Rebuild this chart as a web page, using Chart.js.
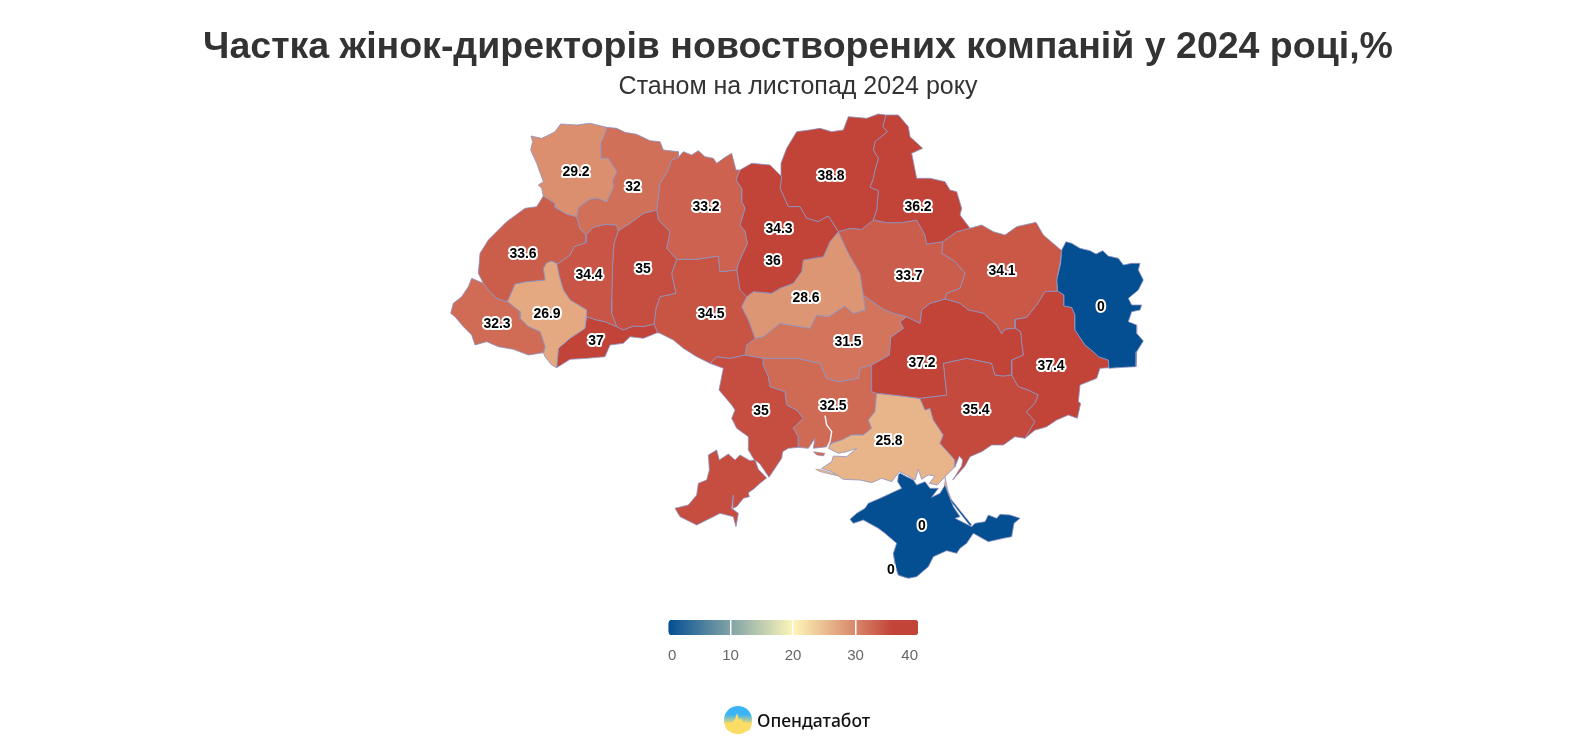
<!DOCTYPE html>
<html lang="uk"><head><meta charset="utf-8">
<script src="https://cdn.jsdelivr.net/npm/chart.js@4"></script>
<style>
html,body{margin:0;padding:0;background:#fff;overflow:hidden}
#wrap{position:relative;width:1596px;height:750px}
#map{position:absolute;left:0;top:0}
#scale{position:absolute;left:648px;top:620px}
#logo{position:absolute;left:724px;top:706px}
#brand{position:absolute;left:757px;top:707px;font:500 17.5px/26px "Noto Sans",sans-serif;color:#111}
</style></head><body>
<div id="wrap">
<canvas id="map" width="1596" height="750"></canvas>
<canvas id="scale" width="290" height="50"></canvas>
<svg id="logo" width="28" height="28" viewBox="0 0 28 28"><defs><linearGradient id="lg" x1="0" y1="0" x2="0" y2="1"><stop offset="0.3" stop-color="#3ab4f6"/><stop offset="0.66" stop-color="#fbdc64"/></linearGradient></defs><circle cx="14" cy="14" r="14" fill="url(#lg)"/><path d="M0 17 L9 16 L11 13 L13 7 L15 14 L17 12 L19 16 L28 17 L26 24 L14 28 L3 24Z" fill="#fbdc64"/></svg>
<div id="brand">Опендатабот</div>
</div>
<script>
const titleText = "Частка жінок-директорів новостворених компаній у 2024 році,%";
const subtitleText = "Станом на листопад 2024 року";
const regionNames = ["Волинська","Рівненська","Львівська","Закарпатська","Івано-Франківська","Тернопільська","Хмельницька","Чернівецька","Житомирська","Вінницька","Київська","м. Київ","Чернігівська","Сумська","Полтавська","Черкаська","Кіровоградська","Дніпропетровська","Харківська","Луганська","Донецька","Запорізька","Херсонська","Миколаївська","Одеська","АР Крим","м. Севастополь"];
const regionValues = [29.2,32,33.6,32.3,26.9,34.4,35,37,33.2,34.5,36,34.3,38.8,36.2,33.7,28.6,31.5,37.2,34.1,0,37.4,35.4,25.8,32.5,35,0,0];
const colorStopValues = [0,20,36,40];
const colorStopColors = [[3,79,146],[253,246,185],[194,67,56],[194,67,56]];
const scaleTicks = [0,10,20,30,40];

// region outlines, traced as [x,y,...] in 3x crops of the picture; first item of each list is the crop origin
const volyn=[430,100,303,108,335,115,350,108,375,95,392,72,440,75,480,70,530,82,525,100,512,130,513,175,535,175,560,215,548,240,550,262,530,305,505,295,480,297,445,322,440,350,410,342,375,322,375,310,340,288,335,265,325,255,340,245,320,190,302,150,308,125];
const rivne=[430,100,530,82,560,85,585,97,620,103,660,122,690,125,700,150,745,155,745,172,725,180,712,215,690,250,685,290,680,330,640,340,600,370,565,392,560,375,525,373,490,382,468,405,450,385,440,350,445,322,480,297,505,295,530,305,550,262,548,240,560,215,535,175,513,175,512,130,525,100];
const lviv=[430,100,340,288,375,310,375,322,410,342,440,350,450,385,468,405,468,428,432,440,420,465,385,490,380,490,365,483,350,488,340,505,345,540,290,545,255,552,232,605,200,595,175,570,160,550,145,520,150,460,175,420,230,365,285,325,320,320];
const zakarpattia=[430,100,125,535,160,550,175,570,200,595,232,605,270,635,270,655,295,680,330,695,345,740,340,758,295,765,250,748,205,740,170,725,135,735,125,705,100,680,75,650,62,640,70,610,95,590,115,560];
const frankivsk=[430,100,365,483,380,490,388,530,400,570,420,600,470,630,465,685,420,715,385,745,380,803,365,795,345,770,340,758,345,740,330,695,295,680,270,655,270,635,232,605,255,552,290,545,345,540,340,505,350,488];
const ternopil=[430,100,468,405,490,382,525,373,560,375,565,392,552,430,548,490,545,600,545,640,560,680,525,665,500,660,470,650,470,630,420,600,400,570,388,530,380,490,385,490,420,465,432,440,468,428];
const khmelnytskyi=[430,100,565,392,600,370,640,340,680,330,685,360,720,395,710,445,740,478,725,520,730,545,738,580,690,590,678,625,672,672,640,680,610,678,580,690,560,680,545,640,545,600,548,490,552,430];
const chernivtsi=[430,100,470,650,500,660,525,665,560,680,580,690,610,678,640,680,672,672,682,698,640,715,600,710,580,730,540,735,525,770,470,775,420,778,380,803,385,745,420,715,465,685];
const zhytomyr=[430,100,745,172,760,155,785,165,805,152,825,170,850,175,860,190,885,172,905,160,918,210,930,210,918,240,935,265,935,305,945,325,930,375,945,395,952,430,925,490,920,510,870,515,865,468,800,478,740,478,710,445,720,395,685,360,680,330,685,290,690,250,712,215,725,180];
const vinnytsia=[430,100,740,478,800,478,865,468,870,515,920,510,930,570,950,590,935,620,955,660,975,715,950,735,945,765,900,775,860,770,840,790,800,770,760,745,730,720,690,700,682,698,672,672,678,625,690,590,738,580,730,545,725,520];
const kyivObl=[760,100,-60,210,-25,190,30,195,65,230,60,265,85,320,120,320,140,355,175,365,205,348,235,395,210,425,190,470,130,480,125,515,100,550,60,565,35,580,-20,575,-40,590,-60,570,-70,510,-65,490,-38,430,-45,395,-60,375,-45,325,-55,305,-55,265,-72,240];
const kyivCity=[760,100,30,340,50,335,60,350,75,345,95,340,90,365,85,385,75,410,70,445,60,445,55,420,30,410,15,385,20,350];
const chernihiv=[760,100,65,230,63,190,80,145,110,95,148,90,180,85,215,95,250,90,265,50,320,55,355,42,378,45,368,80,382,95,345,125,340,150,355,175,345,210,340,235,330,262,355,272,350,330,340,360,305,388,270,385,235,395,205,348,175,365,140,355,120,320,85,320,60,265];
const sumy=[760,100,378,45,415,45,445,80,450,110,488,145,455,160,465,210,470,235,510,235,555,245,570,270,590,275,605,325,600,345,630,385,590,395,548,425,500,432,495,405,470,360,425,368,380,368,340,360,350,330,355,272,330,262,340,235,345,210,355,175,340,150,345,125,382,95,368,80];
const poltava=[760,100,235,395,270,385,305,388,340,360,380,368,425,368,470,360,495,405,500,432,548,425,545,460,585,485,615,520,600,565,560,580,555,597,510,610,485,630,480,670,440,650,400,640,365,625,310,585,300,520,265,460];
const cherkasy=[760,100,235,395,265,460,300,520,310,585,315,630,280,640,255,618,205,650,170,645,150,685,60,670,10,710,-15,715,-35,660,-55,620,-40,590,-20,575,35,580,60,565,100,550,125,515,130,480,190,470,210,425];
const kirovohrad=[760,100,-15,715,10,710,60,670,150,685,170,645,205,650,255,618,280,640,315,630,310,585,365,625,400,640,440,650,420,665,430,685,392,712,388,765,335,795,300,805,295,835,235,845,200,835,180,790,110,775,10,775,-45,765,-40,735];
const dnipro=[760,100,430,685,420,665,440,650,480,670,485,630,510,610,555,597,600,610,625,630,670,640,710,675,725,702,735,688,765,685,782,695,785,730,790,765,755,780,755,825,730,828,705,825,695,790,620,775,550,790,560,885,480,895,400,885,350,880,335,875,335,795,388,765,392,712];
const kharkiv=[760,100,548,425,590,395,630,385,665,375,700,395,735,405,770,380,828,367,850,405,905,452,900,490,890,540,892,573,855,575,830,615,800,652,765,658,765,685,735,688,725,702,710,675,670,640,625,630,600,610,555,597,560,580,600,565,615,520,585,485,545,460];
const luhansk=[990,230,215,60,228,35,245,40,270,55,300,62,318,72,338,62,355,78,385,85,400,105,425,100,450,100,445,120,460,150,445,180,415,205,425,225,455,225,450,240,425,245,415,275,440,285,440,310,460,333,440,365,438,410,400,412,357,415,355,390,325,380,310,365,285,345,255,300,255,255,245,232,222,228,222,195,203,183,200,150,212,100];
const donetsk=[990,230,75,268,110,262,140,225,165,185,203,183,222,195,222,228,245,232,255,255,255,300,285,345,310,365,325,380,355,390,357,413,330,415,320,445,270,465,265,515,272,520,262,565,235,555,200,570,170,590,155,595,135,600,105,625,135,575,110,545,135,520,145,495,115,480,85,470,65,435,65,390,100,375,95,340,92,305,75,295];
const zaporizhzhia=[650,340,810,175,890,165,880,70,950,55,1025,70,1035,105,1060,108,1085,105,1105,140,1135,150,1165,165,1155,190,1130,215,1155,245,1125,295,1095,290,1060,315,1025,315,995,335,960,350,945,378,908,420,935,378,938,360,928,348,915,380,915,360,870,310,880,285,850,240,840,205,825,210];
const kherson=[800,420,230,-80,280,-75,360,-65,375,-30,390,-35,400,0,430,45,420,70,465,120,465,140,435,170,412,195,388,190,405,168,385,165,365,178,355,148,345,180,320,165,298,155,275,185,245,175,215,188,180,180,130,178,95,155,65,145,95,125,100,108,140,110,170,85,140,95,115,100,85,85,95,70,125,60,155,45,190,45,215,25,205,0,225,-25];
const mykolaiv=[650,340,340,55,440,55,510,70,530,115,565,125,625,115,630,85,665,75,665,155,680,160,675,215,655,240,665,265,640,285,605,285,575,300,545,310,532,320,490,325,495,295,475,325,445,322,445,290,430,265,460,235,440,210,410,195,405,155,360,140,355,110,340,75];
const odesa=[660,380,150,-50,170,-70,210,-65,255,-75,310,-65,310,-45,325,-10,330,20,375,35,380,75,410,90,430,115,400,145,415,170,415,202,385,205,368,215,365,235,345,265,327,292,300,252,285,240,295,268,320,294,300,310,280,328,265,338,268,350,250,355,230,380,218,385,220,345,215,385,235,400,228,440,220,410,180,400,160,410,110,435,60,410,45,385,85,375,110,345,115,310,140,300,148,270,145,225,170,210,178,240,205,222,225,240,240,225,270,242,283,240,265,210,265,170,230,145,215,115,225,90,215,75,177,30,190,-35];
const crimea=[800,420,295,165,300,160,320,170,340,180,350,195,375,185,390,205,415,205,395,232,420,220,435,195,450,235,460,260,480,290,465,295,515,320,525,310,555,305,565,285,590,295,600,283,630,285,660,295,642,310,635,350,610,355,565,365,520,340,500,370,480,385,470,400,440,392,400,410,385,440,350,470,325,475,295,465,287,440,280,400,290,370,255,340,235,325,190,300,160,310,150,298,170,280,195,265,205,250,240,235,305,205,293,185];
const sevastopol=[800,420,280,400,298,405,300,432,320,460,318,473,295,465,287,440];
const regionShapes=[volyn,rivne,lviv,zakarpattia,frankivsk,ternopil,khmelnytskyi,chernivtsi,zhytomyr,vinnytsia,kyivObl,kyivCity,chernihiv,sumy,poltava,cherkasy,kirovohrad,dnipro,kharkiv,luhansk,donetsk,zaporizhzhia,kherson,mykolaiv,odesa,crimea,sevastopol];
// small detached pieces: spits and shoals, coloured by the region they belong to
const tendraSpit=[800,420,47,148,60,148,115,165,110,167,60,155];
const kinburnSpit=[800,420,40,95,75,100,70,108,50,105];
const arabatNorth=[800,420,435,170,445,215,455,240,450,240,440,220,432,190];
const arabatSouth=[800,420,455,240,515,315,510,317,450,240];
const detachedShapes=[tendraSpit,kinburnSpit,arabatNorth,arabatSouth];
const detachedOwners=[22,23,22,25];
const bugEstuary=[650,340,525,227,530,255,545,275,540,305,532,320];
// label anchors, true picture pixels
const labelX=[576,633,523,497,547,589,643,596,706,711,773,779,831,918,909,806,848,922,1002,1101,1051,976,889,833,761,922,891];
const labelY=[172,187,254,324,314,275,269,341,207,314,261,229,176,207,276,298,342,363,271,307,366,410,441,406,411,526,570];

function outline(list){const pts=[];for(let i=2;i<list.length;i+=2){pts.push({x:list[0]+list[i]/3,y:list[1]+list[i+1]/3});}pts.push({...pts[0]});return pts;}
function valueColor(v){
  let i=0;while(i<colorStopValues.length-2&&v>colorStopValues[i+1])i++;
  const t=Math.min(1,(v-colorStopValues[i])/(colorStopValues[i+1]-colorStopValues[i]));
  const a=colorStopColors[i],b=colorStopColors[i+1];
  return `rgb(${a.map((c,k)=>Math.round(c+(b[k]-c)*t)).join(",")})`;
}
const edgeColor="rgba(142,146,192,0.9)";
const datasets=[];
regionShapes.forEach((s,i)=>datasets.push({label:regionNames[i],data:outline(s),showLine:true,fill:"shape",tension:0,pointRadius:0,borderWidth:0.9,borderColor:edgeColor,backgroundColor:valueColor(regionValues[i]),borderJoinStyle:"round"}));
detachedShapes.forEach((s,i)=>datasets.push({label:regionNames[detachedOwners[i]],data:outline(s),showLine:true,fill:"shape",tension:0,pointRadius:0,borderWidth:0.6,borderColor:edgeColor,backgroundColor:valueColor(regionValues[detachedOwners[i]])}));
datasets.unshift({label:"Бузький лиман",data:outline(bugEstuary).slice(0,-1),showLine:true,fill:false,tension:0,pointRadius:0,borderWidth:1.5,borderColor:"#f4f4fa"});

const valueLabels={id:"valueLabels",afterDatasetsDraw(chart){
  const {ctx,scales:{x,y}}=chart;ctx.save();
  ctx.font='bold 14px "Liberation Sans"';ctx.textAlign="center";ctx.textBaseline="middle";ctx.lineJoin="round";
  regionValues.forEach((v,i)=>{const px=x.getPixelForValue(labelX[i]),py=y.getPixelForValue(labelY[i]);
    ctx.lineWidth=4;ctx.strokeStyle="#fff";ctx.strokeText(String(v),px,py);
    ctx.fillStyle="#000";ctx.fillText(String(v),px,py);});
  ctx.restore();}};

new Chart(document.getElementById("map"),{type:"scatter",data:{datasets},plugins:[valueLabels],options:{
  responsive:false,animation:false,events:[],
  layout:{padding:0},
  scales:{x:{type:"linear",display:false,min:0,max:1596},y:{type:"linear",display:false,min:110,max:750,reverse:true}},
  plugins:{legend:{display:false},tooltip:{enabled:false},
    title:{display:true,text:titleText,color:"#333",font:{family:'"Liberation Sans"',size:37.5,weight:"bold",lineHeight:1.2},padding:{top:25.5,bottom:1.5}},
    subtitle:{display:true,text:subtitleText,color:"#333",font:{family:'"Liberation Sans"',size:25,lineHeight:1.2},padding:{top:0,bottom:8}}}
}});

new Chart(document.getElementById("scale"),{type:"bar",data:{labels:["шкала"],datasets:[{data:[[scaleTicks[0],scaleTicks[scaleTicks.length-1]]],barPercentage:1,categoryPercentage:1,borderRadius:4,borderSkipped:false,
  backgroundColor(ctx){const a=ctx.chart.chartArea;if(!a)return "#ccc";const g=ctx.chart.ctx.createLinearGradient(a.left,0,a.right,0);
    colorStopValues.forEach(v=>g.addColorStop(v/40,valueColor(v)));return g;}}]},
  options:{indexAxis:"y",responsive:false,animation:false,events:[],layout:{padding:{left:20,right:20,top:0,bottom:0}},
  scales:{y:{display:false},x:{type:"linear",min:0,max:40,afterFit(s){s.height=35;},afterBuildTicks(s){s.ticks=scaleTicks.map(value=>({value}));},border:{display:false},
    grid:{z:1,drawTicks:false,lineWidth:1.5,color(c){return (c.tick&&c.tick.value>0&&c.tick.value<40)?"#fff":"transparent";}},
    ticks:{align:"inner",maxRotation:0,color:"#666",padding:12,font:{family:'"Liberation Sans"',size:15}}}},
  plugins:{legend:{display:false},tooltip:{enabled:false}}}});
</script>
</body></html>
